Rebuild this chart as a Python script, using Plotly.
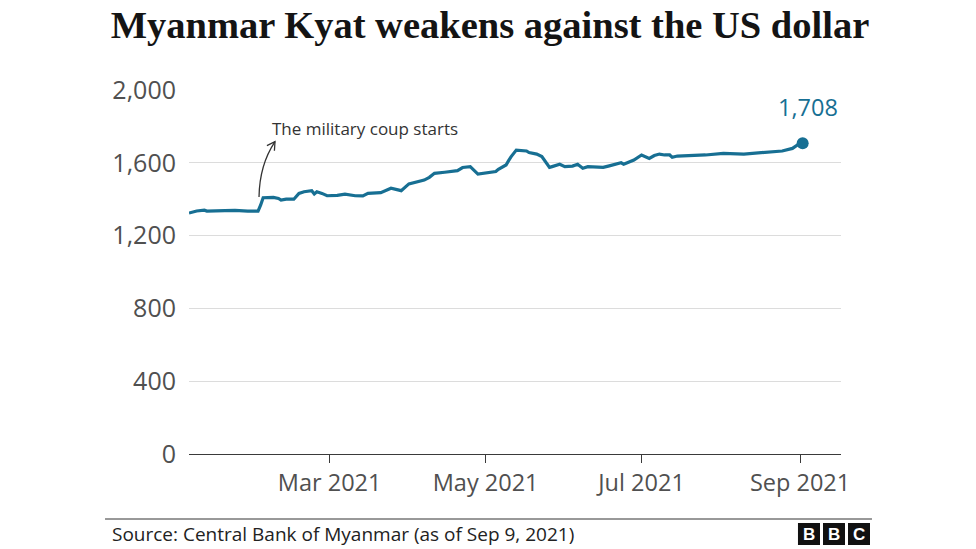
import plotly.graph_objects as go

# ---- data ----
dates = [
    "2021-01-05", "2021-01-06", "2021-01-08", "2021-01-11", "2021-01-12", "2021-01-19",
    "2021-01-23", "2021-01-28", "2021-02-01", "2021-02-02", "2021-02-03", "2021-02-07",
    "2021-02-09", "2021-02-10", "2021-02-12", "2021-02-15", "2021-02-16", "2021-02-17",
    "2021-02-19", "2021-02-22", "2021-02-23", "2021-02-24", "2021-02-26", "2021-02-28",
    "2021-03-04", "2021-03-07", "2021-03-11", "2021-03-14", "2021-03-16", "2021-03-21",
    "2021-03-25", "2021-03-29", "2021-04-01", "2021-04-04", "2021-04-07", "2021-04-09",
    "2021-04-11", "2021-04-15", "2021-04-20", "2021-04-22", "2021-04-25", "2021-04-28",
    "2021-05-02", "2021-05-05", "2021-05-06", "2021-05-09", "2021-05-10", "2021-05-11",
    "2021-05-13", "2021-05-17", "2021-05-18", "2021-05-21", "2021-05-23", "2021-05-26",
    "2021-05-27", "2021-05-30", "2021-06-01", "2021-06-04", "2021-06-06", "2021-06-08",
    "2021-06-10", "2021-06-16", "2021-06-18", "2021-06-21", "2021-06-23", "2021-06-24",
    "2021-06-28", "2021-07-01", "2021-07-04", "2021-07-06", "2021-07-08", "2021-07-10",
    "2021-07-12", "2021-07-13", "2021-07-15", "2021-07-26", "2021-08-02", "2021-08-10",
    "2021-08-18", "2021-08-25", "2021-08-29", "2021-08-31", "2021-09-02",
]
kyat_per_usd = [
    1324, 1329, 1335, 1340, 1335, 1337,
    1339, 1335, 1335, 1367, 1408, 1410,
    1404, 1395, 1400, 1400, 1414, 1432,
    1441, 1447, 1429, 1441, 1432, 1419,
    1421, 1428, 1419, 1418, 1432, 1436,
    1460, 1447, 1484, 1496, 1505, 1520,
    1542, 1548, 1557, 1574, 1579, 1538,
    1548, 1552, 1564, 1588, 1612, 1634,
    1670, 1665, 1656, 1648, 1634, 1575,
    1579, 1592, 1579, 1582, 1592, 1570,
    1579, 1575, 1582, 1592, 1600, 1592,
    1615, 1643, 1624, 1640, 1648, 1643,
    1643, 1630, 1637, 1643, 1652, 1648,
    1657, 1665, 1679, 1698, 1708,
]
y_ticks = [0, 400, 800, 1200, 1600, 2000]
title_text = "Myanmar Kyat weakens against the US dollar"
annotation_text = "The military coup starts"
source_text = "Source: Central Bank of Myanmar (as of Sep 9, 2021)"

LINE = "#176f93"
GREY = "#505050"

fig = go.Figure()
fig.add_trace(go.Scatter(
    x=dates, y=kyat_per_usd, mode="lines",
    line=dict(color=LINE, width=3.2), hoverinfo="skip", showlegend=False,
))
fig.add_trace(go.Scatter(
    x=[dates[-1]], y=[kyat_per_usd[-1]], mode="markers",
    marker=dict(color=LINE, size=12), hoverinfo="skip", showlegend=False,
))

fig.update_layout(
    width=976, height=549,
    margin=dict(l=189, r=135, t=90, b=95),
    paper_bgcolor="white", plot_bgcolor="white",
    title=dict(text=title_text, x=0.502, xanchor="center", y=0.956, yanchor="middle",
               yref="container",
               font=dict(family="Liberation Serif", size=38.5, color="#141414", weight="bold")),
    xaxis=dict(
        type="date", range=["2021-01-05", "2021-09-17"],
        tick0="2021-01-01", dtick="M2", tickformat="%b %Y",
        showgrid=False, showline=True, linecolor="#3a3a3a", linewidth=1.3,
        ticks="outside", ticklen=8, tickcolor="#3a3a3a", tickwidth=1.2,
        tickfont=dict(family="Open Sans", size=23.5, color=GREY),
        zeroline=False, fixedrange=True,
    ),
    yaxis=dict(
        range=[0, 2000], tickvals=y_ticks,
        ticktext=[f"{v:,}" for v in y_ticks],
        showgrid=True, gridcolor="#dcdcdc", gridwidth=1,
        zeroline=False, showline=False, ticks="",
        ticklabelstandoff=12,
        tickfont=dict(family="Open Sans", size=25, color=GREY),
        fixedrange=True,
    ),
)

# last value label
fig.add_annotation(
    x=dates[-1], y=kyat_per_usd[-1], text=f"{kyat_per_usd[-1]:,}",
    showarrow=False, xanchor="right", yanchor="middle", xshift=37, yshift=36,
    font=dict(family="Open Sans", size=23.5, color=LINE),
)

# coup annotation text
fig.add_annotation(
    xref="paper", yref="paper", x=0.1242, y=0.8956, text=annotation_text,
    showarrow=False, xanchor="left", yanchor="middle",
    font=dict(family="Open Sans", size=17, color="#333333"),
)
# curved arrow
fig.add_shape(
    type="path", xref="paper", yref="paper",
    path="M 0.1074 0.7060 Q 0.1081 0.7940 0.1319 0.8580",
    line=dict(color="#333333", width=1.3),
)
fig.add_shape(
    type="path", xref="paper", yref="paper",
    path="M 0.1195 0.8470 L 0.1319 0.8580 L 0.1310 0.8332",
    line=dict(color="#333333", width=1.3),
)

# footer rule
fig.add_shape(type="line", xref="paper", yref="paper",
              x0=-0.1288, x1=1.0475, y0=-0.1786, y1=-0.1786,
              line=dict(color="#333333", width=1))
fig.add_annotation(
    xref="paper", yref="paper", x=-0.1212, y=-0.219, text=source_text,
    showarrow=False, xanchor="left", yanchor="middle",
    font=dict(family="Open Sans", size=19, color="#222222"),
)

# BBC blocks
for x0, x1, letter in [(0.9340, 0.9678, "B"), (0.9724, 1.0061, "B"), (1.0107, 1.0445, "C")]:
    fig.add_shape(type="rect", xref="paper", yref="paper",
                  x0=x0, x1=x1, y0=-0.25, y1=-0.1896,
                  line=dict(width=0), fillcolor="#111111")
    fig.add_annotation(xref="paper", yref="paper", x=(x0 + x1) / 2, y=-0.2198,
                       text=letter, showarrow=False, xanchor="center", yanchor="middle",
                       font=dict(family="Liberation Sans", size=17, color="white", weight="bold"))

fig.write_html("out.html")
